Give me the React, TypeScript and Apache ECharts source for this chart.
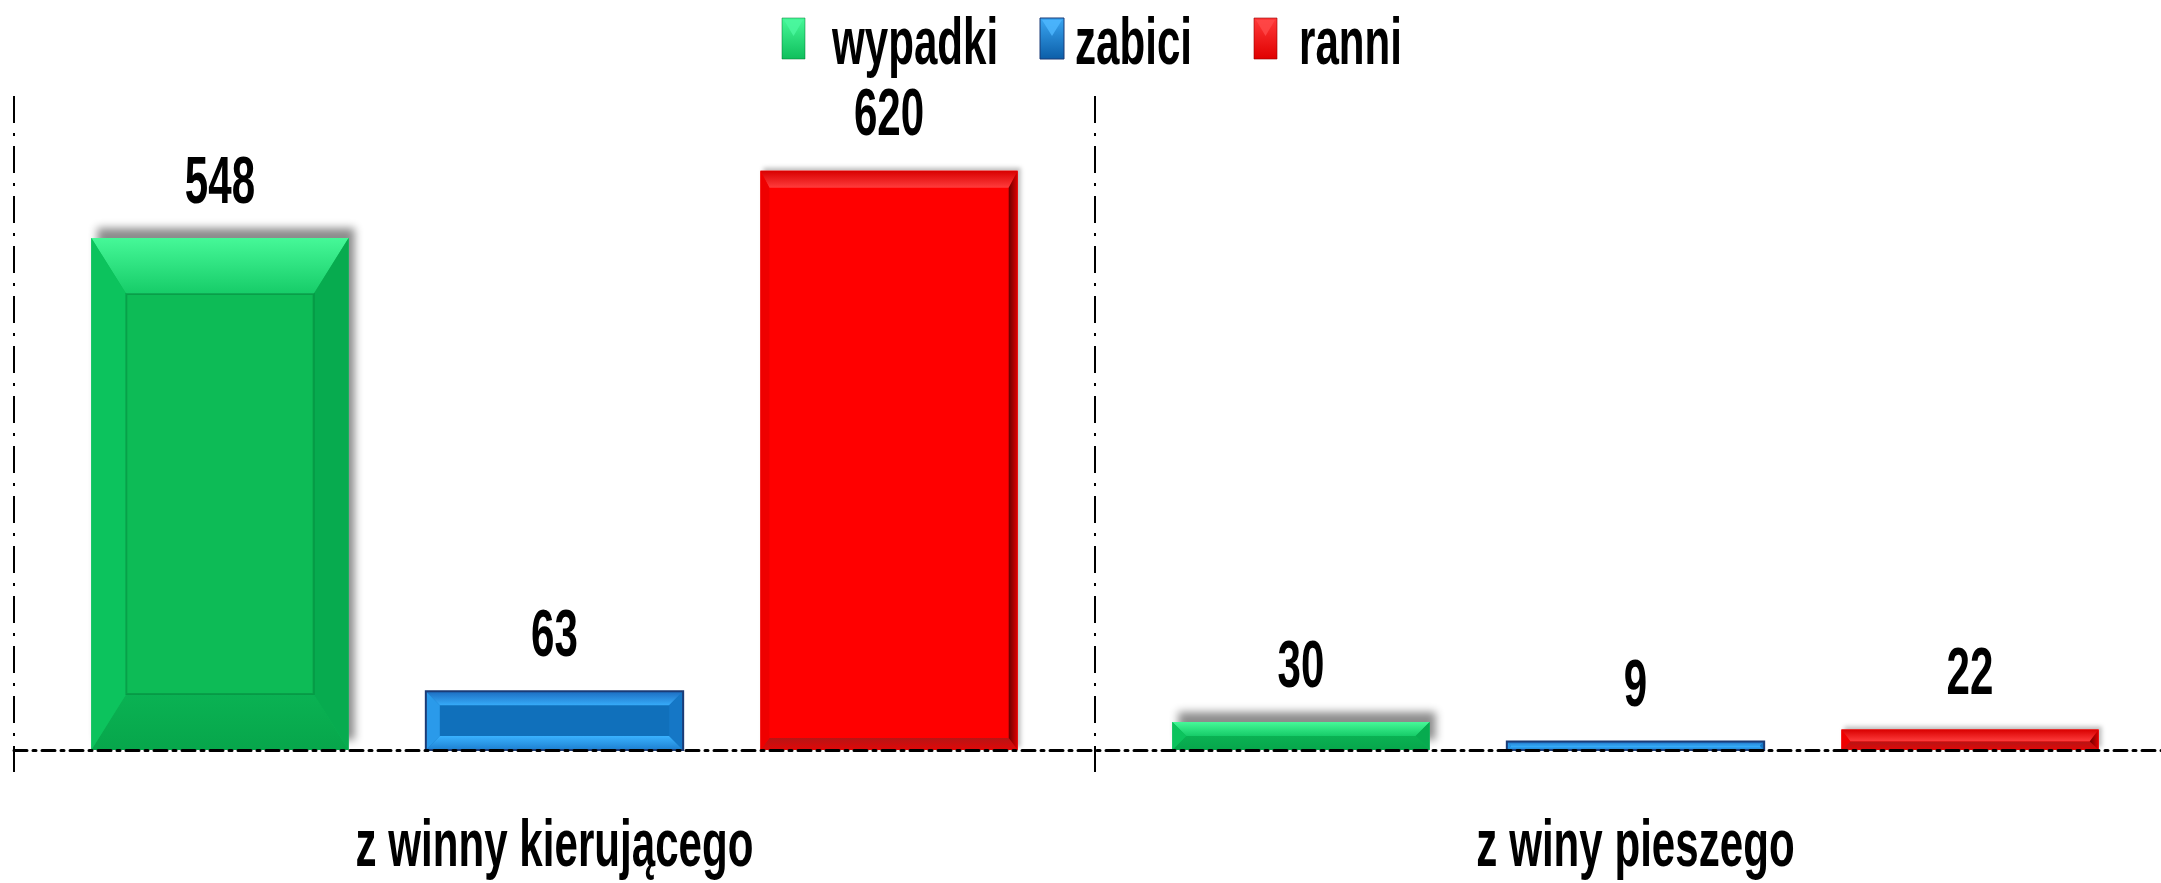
import React, { useEffect, useRef } from 'react';
import * as echarts from 'echarts';

// ---- data ----
const categories = ['z winny kierującego', 'z winy pieszego'];
const seriesNames = ['wypadki', 'zabici', 'ranni'];
const wypadki = [548, 30];
const zabici = [63, 9];
const ranni = [620, 22];
const yMax = 700;

const FONT = "'Liberation Sans', Arial, Helvetica, sans-serif";
const SX = 0.81;
const SY = 1.28;
const FS = 52;

const lg = (x2: number, y2: number, c0: string, c1: string) =>
  new echarts.graphic.LinearGradient(0, 0, x2, y2, [
    { offset: 0, color: c0 },
    { offset: 1, color: c1 },
  ]);

type Bevel = {
  side: number;
  top: number;
  bottom: number;
  face: any;
  topFill: any;
  bottomFill: any;
  leftFill: any;
  rightFill: any;
  border?: string;
  borderWidth?: number;
  inner?: string;
  shadow?: { blur: number; color: string; ox: number; oy: number };
};

const bevels: Bevel[] = [
  {
    side: 35, top: 56, bottom: 56,
    face: '#09bb57',
    topFill: lg(0, 1, '#46f898', '#16cc68'),
    bottomFill: lg(0, 1, '#0ab253', '#07a64b'),
    leftFill: '#0cc35d',
    rightFill: '#07ab4f',
    inner: 'rgba(0,110,45,0.35)',
    shadow: { blur: 8, color: 'rgba(0,0,0,0.45)', ox: 6, oy: -10 },
  },
  {
    side: 14, top: 14, bottom: 14,
    face: '#1070bb',
    topFill: lg(0, 1, '#1c6cc0', '#36aaf8'),
    bottomFill: lg(0, 1, '#3ab2ff', '#1d7fd0'),
    leftFill: '#2a9aea',
    rightFill: '#1577c6',
    border: '#1b3b76',
    borderWidth: 2,
  },
  {
    side: 9, top: 17, bottom: 12,
    face: '#ff0505',
    topFill: lg(0, 1, '#d80000', '#ff3c3c'),
    bottomFill: lg(0, 1, '#b81414', '#e00808'),
    leftFill: '#ef0000',
    rightFill: lg(1, 0, '#6a0000', '#e00000'),
    shadow: { blur: 4, color: 'rgba(0,0,0,0.25)', ox: 3, oy: -3 },
  },
];

const CAT_GAP = 0.143;
const BAR_GAP = 0.3;

const textStyle = (text: string, align: string) => ({
  text,
  fill: '#000',
  fontSize: FS,
  fontWeight: 'bold',
  fontFamily: FONT,
  align,
  verticalAlign: 'middle',
  textAlign: align,
  textVerticalAlign: 'middle',
});

const makeRender = (sIdx: number) => (params: any, api: any) => {
  const cat = api.value(0);
  const val = api.value(1);
  const base = api.coord([cat, 0]);
  const topPt = api.coord([cat, val]);
  const band = api.size([1, 0])[0];
  const catGap = band * CAT_GAP;
  const barW = (band - catGap) / (3 + 2 * BAR_GAP);
  const gap = barW * BAR_GAP;
  const x0 = base[0] - band / 2 + catGap / 2 + sIdx * (barW + gap);
  const x1 = x0 + barW;
  const y0 = topPt[1];
  const y1 = base[1];
  const h = y1 - y0;
  const b = bevels[sIdx];
  let t = b.top;
  let bt = b.bottom;
  if (t + bt > h) {
    const f = h / (t + bt);
    t *= f;
    bt *= f;
  }
  const s = Math.min(b.side, h / 2, barW / 2);
  const children: any[] = [
    {
      type: 'rect',
      shape: { x: x0, y: y0, width: barW, height: h },
      style: {
        fill: b.face,
        shadowBlur: b.shadow ? b.shadow.blur : 0,
        shadowColor: b.shadow ? b.shadow.color : 'transparent',
        shadowOffsetX: b.shadow ? b.shadow.ox : 0,
        shadowOffsetY: b.shadow ? b.shadow.oy : 0,
      },
    },
    {
      type: 'polygon',
      shape: { points: [[x0, y0], [x1, y0], [x1 - s, y0 + t], [x0 + s, y0 + t]] },
      style: { fill: b.topFill },
    },
    {
      type: 'polygon',
      shape: { points: [[x0, y1], [x1, y1], [x1 - s, y1 - bt], [x0 + s, y1 - bt]] },
      style: { fill: b.bottomFill },
    },
    {
      type: 'polygon',
      shape: { points: [[x0, y0], [x0 + s, y0 + t], [x0 + s, y1 - bt], [x0, y1]] },
      style: { fill: b.leftFill },
    },
    {
      type: 'polygon',
      shape: { points: [[x1, y0], [x1 - s, y0 + t], [x1 - s, y1 - bt], [x1, y1]] },
      style: { fill: b.rightFill },
    },
  ];
  if (b.inner && h - t - bt > 2) {
    children.push({
      type: 'rect',
      shape: { x: x0 + s, y: y0 + t, width: barW - 2 * s, height: h - t - bt },
      style: { fill: 'none', stroke: b.inner, lineWidth: 2 },
    });
  }
  if (b.border) {
    children.push({
      type: 'rect',
      shape: { x: x0, y: y0, width: barW, height: h },
      style: { fill: 'none', stroke: b.border, lineWidth: b.borderWidth || 1 },
    });
  }
  children.push({
    type: 'text',
    x: (x0 + x1) / 2,
    y: y0 - 58,
    scaleX: SX,
    scaleY: SY,
    style: textStyle(String(val), 'center'),
  });
  return { type: 'group', children };
};

const renderCategoryLabel = (params: any, api: any) => {
  const idx = api.value(0);
  const pt = api.coord([idx, 0]);
  return {
    type: 'text',
    x: pt[0],
    y: pt[1] + 93,
    scaleX: SX,
    scaleY: SY,
    style: textStyle(categories[idx], 'center'),
  };
};

const seriesValues = [wypadki, zabici, ranni];

// legend drawn as graphic (icon + stretched narrow bold text)
const legendItems = [
  { icon: 782, w: 23, text: 832, top: lg(0, 1, '#46f898', '#0fbf5c'), tri: '#4cf7a0', border: 'rgba(0,120,50,0.5)' },
  { icon: 1040, w: 24, text: 1075, top: lg(0, 1, '#3aa6f2', '#0c5ea8'), tri: '#4fb8ff', border: '#1b3b76' },
  { icon: 1254, w: 23, text: 1299, top: lg(0, 1, '#ff3a3a', '#e00000'), tri: '#ff4a4a', border: 'rgba(150,0,0,0.6)' },
];

export default function App() {
  const ref = useRef<HTMLDivElement>(null);
  useEffect(() => {
    if (!ref.current) return;
    const chart = echarts.init(ref.current, undefined, { renderer: 'svg' });
    const vDash = [27, 10, 3, 10];
    const graphic: any[] = [];
    legendItems.forEach((it, i) => {
      graphic.push({
        type: 'rect',
        shape: { x: it.icon, y: 18, width: it.w, height: 41 },
        style: { fill: it.top, stroke: it.border, lineWidth: 1 },
      });
      graphic.push({
        type: 'polygon',
        shape: { points: [[it.icon + 2, 20], [it.icon + it.w - 2, 20], [it.icon + it.w / 2, 36]] },
        style: { fill: it.tri, opacity: 0.8 },
      });
      graphic.push({
        type: 'text',
        x: it.text,
        y: 41,
        scaleX: SX,
        scaleY: SY,
        style: textStyle(seriesNames[i], 'left'),
      });
    });
    chart.setOption({
      animation: false,
      backgroundColor: '#ffffff',
      graphic,
      grid: { left: 14, right: 4, top: 96, bottom: 133, containLabel: false },
      xAxis: {
        type: 'category',
        data: categories,
        z: 10,
        axisLine: { show: true, lineStyle: { color: '#000', width: 3, type: [13, 6, 3, 6] } },
        axisTick: { show: true, length: 22, interval: 0, lineStyle: { color: '#000', width: 2, type: vDash } },
        splitLine: { show: true, interval: 0, lineStyle: { color: '#000', width: 2, type: vDash } },
        axisLabel: { show: false },
      },
      yAxis: {
        type: 'value',
        min: 0,
        max: yMax,
        axisLine: { show: false },
        axisTick: { show: false },
        axisLabel: { show: false },
        splitLine: { show: false },
      },
      series: [
        ...seriesNames.map((name, i) => ({
          name,
          type: 'custom',
          encode: { x: 0, y: 1 },
          renderItem: makeRender(i),
          data: seriesValues[i].map((v, c) => [c, v]),
        })),
        {
          name: 'categoryLabels',
          type: 'custom',
          silent: true,
          encode: { x: 0, y: 1 },
          renderItem: renderCategoryLabel,
          data: categories.map((_, c) => [c, 0]),
        },
      ],
    });
    return () => chart.dispose();
  }, []);
  return (
    <div style={{ position: 'absolute', left: 0, top: 0, width: 2161, height: 883, overflow: 'hidden', background: '#fff' }}>
      <div ref={ref} style={{ width: 2180, height: 883 }} />
    </div>
  );
}
